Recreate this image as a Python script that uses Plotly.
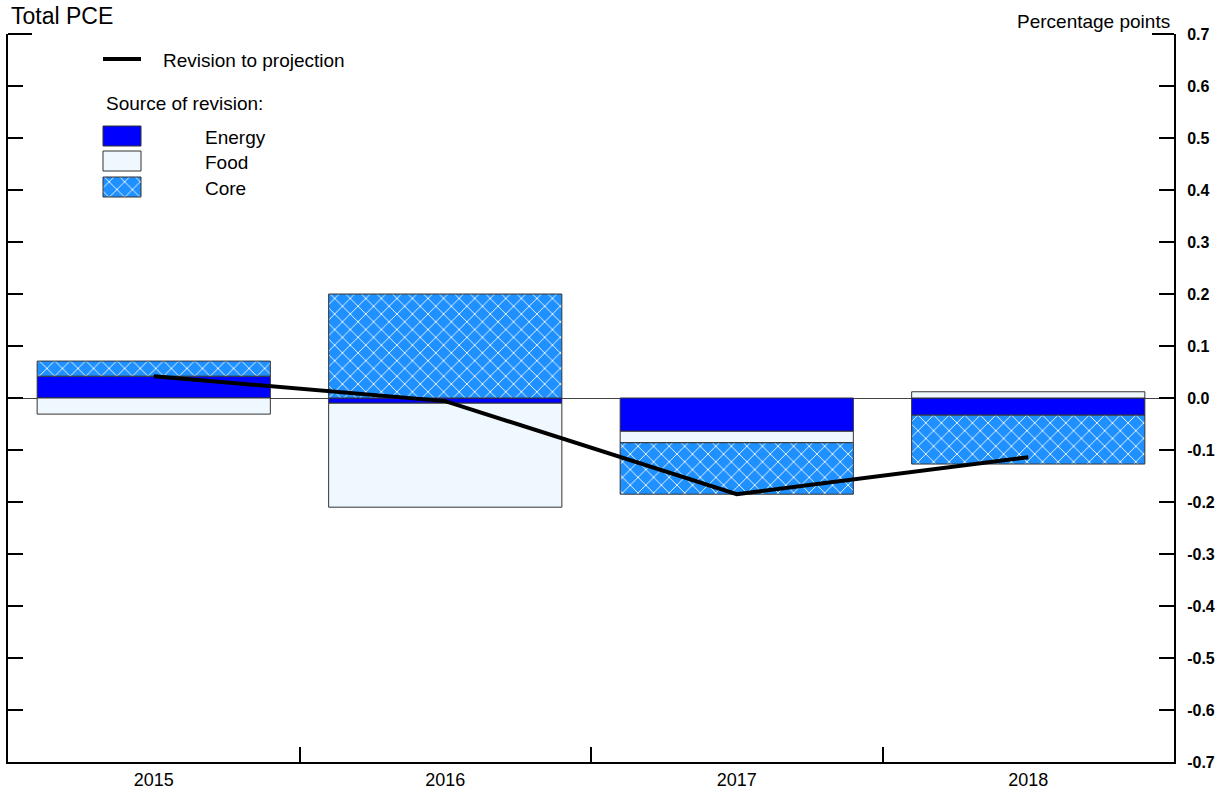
import plotly.graph_objects as go

years = ["2015", "2016", "2017", "2018"]
energy = [0.042, -0.010, -0.064, -0.033]
food = [-0.031, -0.200, -0.022, 0.012]
core = [0.029, 0.200, -0.099, -0.094]
revision = [0.042, -0.006, -0.185, -0.114]
y_ticks = [0.7, 0.6, 0.5, 0.4, 0.3, 0.2, 0.1, 0.0, -0.1, -0.2, -0.3, -0.4, -0.5, -0.6, -0.7]

FONT = "Liberation Sans, Arial, sans-serif"
ENERGY_C = "#0000FF"
FOOD_C = "#F0F8FF"
CORE_C = "#1E90FF"
OUTLINE = dict(color="#333333", width=1)
core_pattern = dict(shape="x", fgcolor="white", bgcolor=CORE_C, size=11, solidity=0.15, fillmode="replace")

W, H = 1225, 790
L, R, T, B = 8, 1174, 34, 762

fig = go.Figure()
fig.add_bar(x=years, y=energy, name="Energy", marker=dict(color=ENERGY_C, line=OUTLINE), width=0.8)
fig.add_bar(x=years, y=food, name="Food", marker=dict(color=FOOD_C, line=OUTLINE), width=0.8)
fig.add_bar(x=years, y=core, name="Core", marker=dict(color=CORE_C, line=OUTLINE, pattern=core_pattern), width=0.8)
fig.add_scatter(x=years, y=revision, mode="lines", name="Revision to projection",
                line=dict(color="black", width=4))

# Custom legend drawn on an overlay axis in pixel-like coordinates
def box(x0, y0, x1, y1):
    return [x0, x1, x1, x0, x0], [y0, y0, y1, y1, y0]

legend_boxes = [((103, 126, 141, 146), ENERGY_C, None),
                ((103, 151, 141, 171), FOOD_C, None),
                ((103, 177, 141, 197), CORE_C, core_pattern)]
for (x0, y0, x1, y1), col, pat in legend_boxes:
    bx, by = box(x0, y0, x1, y1)
    kw = dict(fillpattern=pat) if pat else {}
    fig.add_scatter(x=bx, y=by, xaxis="x3", yaxis="y3", fill="toself", fillcolor=col,
                    mode="lines", line=dict(color="#333333", width=1), hoverinfo="skip", **kw)
fig.add_scatter(x=[103, 141], y=[59, 59], xaxis="x3", yaxis="y3", mode="lines",
                line=dict(color="black", width=4), hoverinfo="skip")

annots = [
    (161, 60, "Revision to projection"),
    (104, 103, "Source of revision:"),
    (203, 137, "Energy"),
    (203, 162, "Food"),
    (203, 188, "Core"),
]
annotations = [dict(x=x, y=y, xref="x3", yref="y3", text=t, showarrow=False,
                    xanchor="left", yanchor="middle", font=dict(family=FONT, size=19, color="black"))
               for x, y, t in annots]
annotations.append(dict(x=0, y=1, xref="paper", yref="paper", text="Total PCE", showarrow=False,
                        xanchor="left", yanchor="middle", xshift=1, yshift=18,
                        font=dict(family=FONT, size=23, color="black")))
annotations.append(dict(x=1, y=1, xref="paper", yref="paper", text="Percentage points", showarrow=False,
                        xanchor="right", yanchor="middle", xshift=-2, yshift=13,
                        font=dict(family=FONT, size=19, color="black")))

fig.update_layout(
    width=W, height=H,
    margin=dict(l=L, r=W - R, t=T, b=H - B, autoexpand=False),
    barmode="relative",
    bargap=0.2,
    showlegend=False,
    plot_bgcolor="white", paper_bgcolor="white",
    font=dict(family=FONT, color="black"),
    xaxis=dict(type="category", range=[-0.5, 3.5], tickson="boundaries", ticks="inside", ticklen=15,
               tickwidth=2, tickcolor="black", showline=True, linecolor="black", linewidth=2,
               showgrid=False, zeroline=False, tickfont=dict(size=18, family=FONT), fixedrange=True),
    yaxis=dict(side="right", range=[-0.7, 0.7], tickvals=y_ticks, ticktext=[f"{v:.1f}" for v in y_ticks],
               ticks="inside", ticklen=15, tickwidth=2, tickcolor="black", showline=True, linecolor="black",
               linewidth=2, showgrid=False, zeroline=True, zerolinecolor="#444444", zerolinewidth=1,
               tickfont=dict(size=16, family=FONT, weight="bold"), ticklabelstandoff=8, fixedrange=True),
    yaxis2=dict(overlaying="y", side="left", range=[-0.7, 0.7], tickvals=y_ticks, showticklabels=False,
                ticks="inside", ticklen=15, tickwidth=2, tickcolor="black", showline=True, linecolor="black",
                linewidth=2, showgrid=False, zeroline=False, fixedrange=True),
    xaxis3=dict(overlaying="x", range=[L, R], visible=False, fixedrange=True),
    yaxis3=dict(overlaying="y", range=[B, T], visible=False, fixedrange=True),
    annotations=annotations,
    shapes=[
        dict(type="line", xref="paper", yref="paper", x0=0, x1=24 / (R - L), y0=1, y1=1,
             line=dict(color="black", width=2)),
        dict(type="line", xref="paper", yref="paper", x0=1 - 22 / (R - L), x1=1, y0=1, y1=1,
             line=dict(color="black", width=2)),
    ],
)
# dummy trace so yaxis2 renders
fig.add_scatter(x=[None], y=[None], yaxis="y2", showlegend=False, hoverinfo="skip")

fig.write_html("out.html", config={"displayModeBar": False},
               post_script="document.body.style.margin='0';document.body.style.overflow='hidden';")
